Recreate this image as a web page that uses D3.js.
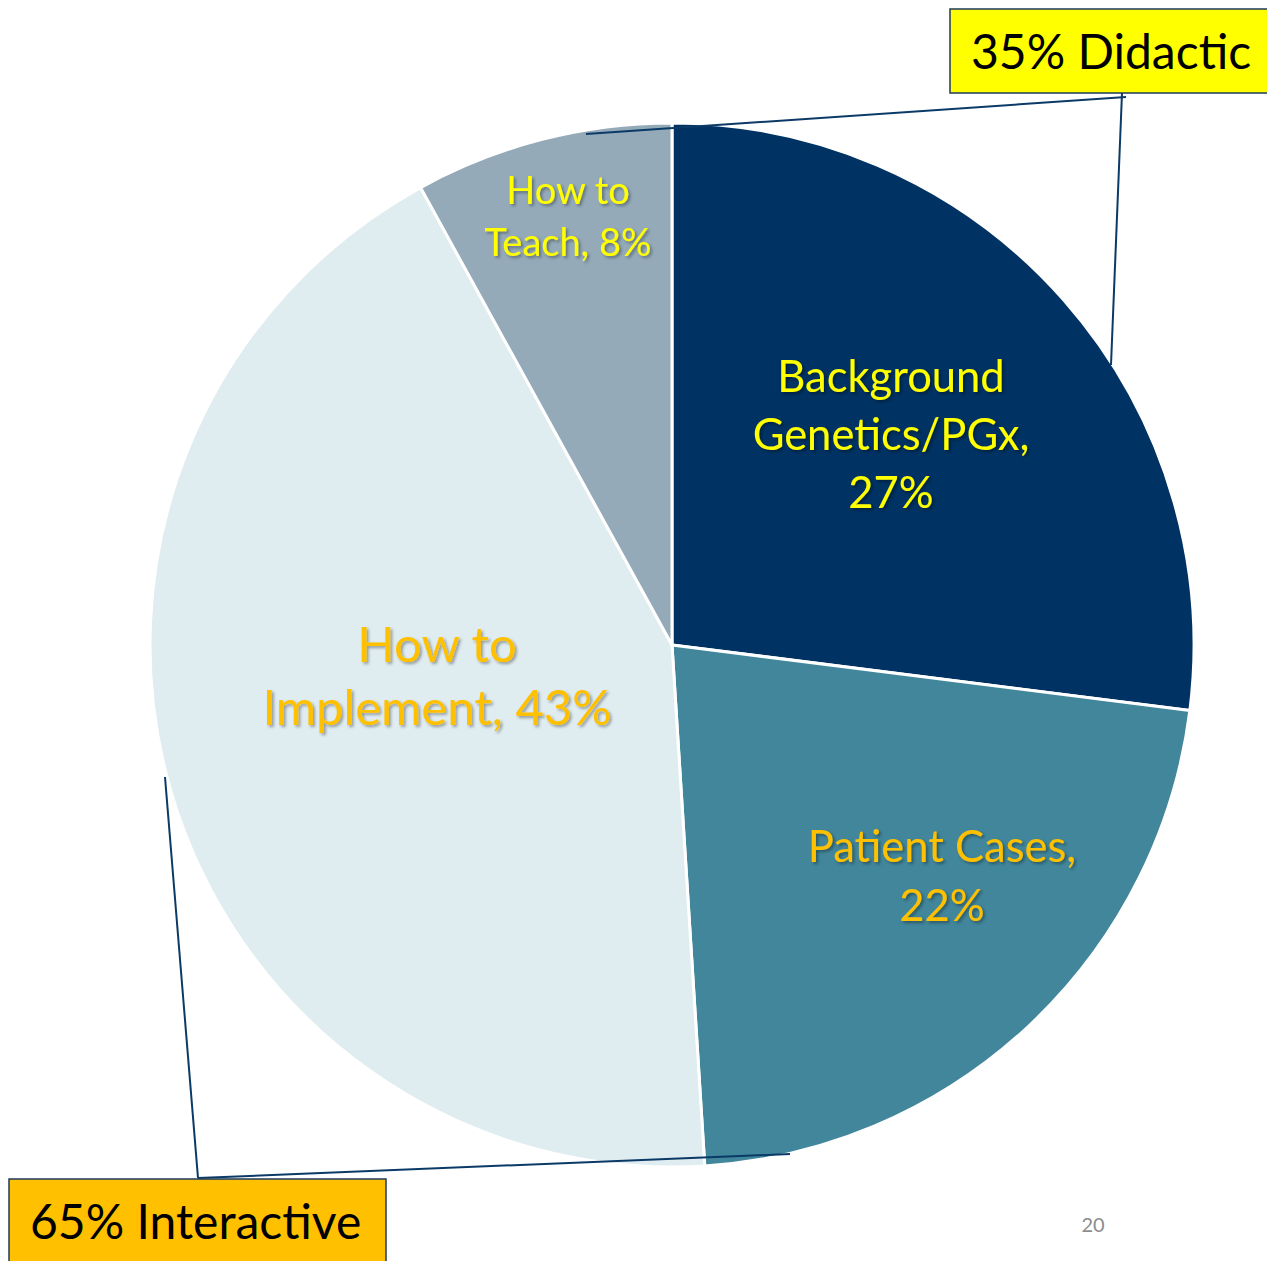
<!DOCTYPE html>
<html>
<head>
<meta charset="utf-8">
<script src="https://cdn.jsdelivr.net/npm/d3@7"></script>
<style>
body { margin:0; background:#fff; }
svg { display:block; }
</style>
</head>
<body>
<svg id="chart" width="1267" height="1261"></svg>
<script>
// data
var topics = ["Background Genetics/PGx", "Patient Cases", "How to Implement", "How to Teach"];
var shares = [27, 22, 43, 8];
var sliceColors = ["#003263", "#41869B", "#DFECF0", "#94AAB9"];
var labelLines = [["Background", "Genetics/PGx,", "27%"], ["Patient Cases,", "22%"], ["How to", "Implement, 43%"], ["How to", "Teach, 8%"]];
var labelColors = ["#FFFF00", "#FFC000", "#FFC000", "#FFFF00"];
var labelSizes = [43.5, 43.5, 49, 38];
var labelSpacing = [58, 59, 63, 52];
// label centre offsets from pie centre
var labelX = [219, 270, -235, -104];
var labelY = [-210, 231, 31, -428];

var svg = d3.select("#chart"),
    cx = 672, cy = 645, R = 522;

var defs = svg.append("defs");
var f = defs.append("filter").attr("id", "shadow").attr("x", "-20%").attr("y", "-20%").attr("width", "140%").attr("height", "140%");
f.append("feDropShadow").attr("dx", 2).attr("dy", 2).attr("stdDeviation", 1.5)
 .attr("flood-color", "#000").attr("flood-opacity", 0.35);

var pie = d3.pie().sort(null).value(function(d) { return d; });
var arc = d3.arc().innerRadius(0).outerRadius(R);
var arcs = pie(shares);

var g = svg.append("g").attr("transform", "translate(" + cx + "," + cy + ")");

g.selectAll(".slice")
 .data(arcs)
 .enter().append("path")
 .attr("class", "slice")
 .attr("d", arc)
 .attr("fill", function(d, i) { return sliceColors[i]; })
 .attr("stroke", "#fff")
 .attr("stroke-width", 3)
 .attr("stroke-linejoin", "round");

var labels = g.selectAll(".lbl")
 .data(arcs)
 .enter().append("text")
 .attr("class", "lbl")
 .attr("text-anchor", "middle")
 .attr("font-family", "Lato, 'Open Sans', sans-serif")
 .attr("font-size", function(d, i) { return labelSizes[i] + "px"; })
 .attr("fill", function(d, i) { return labelColors[i]; })
 .attr("filter", "url(#shadow)");

labels.each(function(d, i) {
  var t = d3.select(this);
  var lines = labelLines[i];
  var n = lines.length;
  lines.forEach(function(s, k) {
    t.append("tspan")
     .attr("x", labelX[i])
     .attr("y", labelY[i] + (k - (n - 1) / 2) * labelSpacing[i])
     .attr("dy", "0.35em")
     .text(s);
  });
});

// bracket lines
var lineColor = "#0B3A66";
function seg(x1, y1, x2, y2) {
  svg.append("line")
     .attr("x1", x1).attr("y1", y1).attr("x2", x2).attr("y2", y2)
     .attr("stroke", lineColor).attr("stroke-width", 2);
}
seg(586, 134, 1126, 97);
seg(1122, 93, 1111, 365);
seg(165, 777, 198, 1178);
seg(198, 1178, 790, 1154);

// callout boxes
function callout(x, y, w, h, fill, txt, tx, ty, size) {
  svg.append("rect")
     .attr("x", x).attr("y", y).attr("width", w).attr("height", h)
     .attr("fill", fill).attr("stroke", "#1F3A60").attr("stroke-width", 1.5);
  svg.append("text")
     .attr("x", tx).attr("y", ty)
     .attr("font-family", "Lato, 'Open Sans', sans-serif")
     .attr("font-size", size + "px")
     .attr("fill", "#000")
     .text(txt);
}
callout(950, 9, 330, 84, "#FFFF00", "35% Didactic", 971, 69, 48);
callout(9, 1179, 377, 100, "#FFC000", "65% Interactive", 30, 1239, 48);

svg.append("text")
   .attr("x", 1093).attr("y", 1232)
   .attr("text-anchor", "middle")
   .attr("font-family", "Lato, sans-serif")
   .attr("font-size", "20px")
   .attr("fill", "#8C8C8C")
   .text("20");
</script>
</body>
</html>
